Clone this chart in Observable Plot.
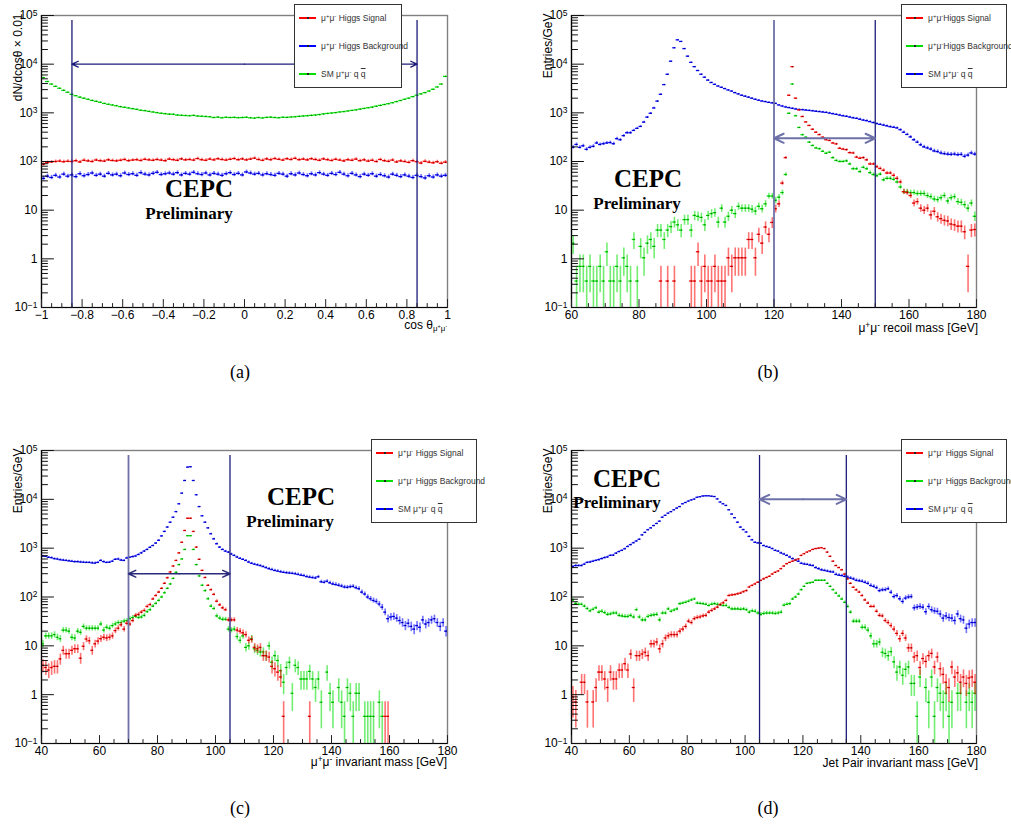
<!DOCTYPE html>
<html><head><meta charset="utf-8">
<script src="https://cdn.jsdelivr.net/npm/d3@7"></script>
<script src="https://cdn.jsdelivr.net/npm/@observablehq/plot@0.6"></script>
<style>
body{margin:0;background:#fff;}
#root{position:relative;width:1011px;height:827px;overflow:hidden;background:#fff;}
.lbl{position:absolute;white-space:nowrap;}
.lbl sup{font-size:0.7em;vertical-align:0.5em;line-height:0;}
.lbl sub{font-size:0.65em;vertical-align:-0.3em;line-height:0;}
.leg{position:absolute;box-sizing:border-box;border:1.5px solid #333;background:#fff;width:106px;height:84px;}
.ov{text-decoration:overline;}
</style></head><body><div id="root"></div>
<script>
const _ = null;
// ---------- (a) cos theta, 100 bins of 0.02 from -1 ----------
const aStart = -1, aStep = 0.02;
const aSignal = [
88,95,98,100,102,99,101,100,104,98,
106,103,100,107,104,102,108,105,103,106,
110,104,107,109,105,111,108,106,110,107,
104,112,109,106,113,108,110,107,115,109,
106,112,108,114,110,107,111,115,109,113,
108,112,117,110,106,113,109,115,111,107,
114,110,116,109,112,108,114,110,106,113,
109,105,111,107,103,109,106,112,104,108,
102,106,100,110,104,101,107,98,103,100,
96,104,99,93,101,97,94,99,92,97];
const aHiggsBkg = [
45,50,47,52,48,55,50,53,49,56,
51,54,58,52,55,50,57,53,55,51,
58,54,56,52,59,55,53,57,60,54,
56,58,55,59,53,57,55,60,56,54,
58,53,57,55,52,56,59,54,57,53,
61,58,55,57,53,56,54,52,57,55,
50,56,53,58,54,51,56,53,59,55,
52,57,54,60,55,51,57,53,49,55,
52,56,50,54,51,48,55,52,49,53,
50,47,52,49,46,51,48,53,50,52];
const aSM = [
5300,4400,3900,3500,3200,2900,2650,2400,2250,2100,
2000,1900,1800,1720,1650,1560,1500,1450,1400,1340,
1300,1260,1220,1180,1130,1110,1070,1040,1010,980,
960,940,935,900,890,880,870,885,860,850,
840,830,800,815,790,810,800,805,795,800,
810,790,780,800,785,805,815,800,790,810,
805,820,830,845,860,870,885,900,920,950,
970,990,1010,1040,1060,1090,1120,1150,1190,1230,
1270,1310,1370,1420,1480,1540,1610,1700,1790,1900,
2000,2150,2300,2450,2600,2800,3050,3400,3900,5600];

// ---------- (b) recoil mass, 1 GeV bins from 60 ----------
const bStart = 60, bStep = 1;
const bSignal = [
_,_,_,_,_,_,_,_,_,_,
_,_,_,_,_,_,_,_,_,_,
_,_,_,_,_,_,0.35,_,0.35,_,
0.35,_,_,_,_,0.35,0.35,1.4,0.35,0.7,
0.35,0.35,0.7,0.35,0.35,0.35,1.05,0.7,1.05,1.05,
1.05,1.05,2.5,2.5,1.05,3.2,2.1,4.5,3.2,5.6,
10.7,13.5,36,120,2300,8900,2000,1150,840,650,
550,460,400,357,316,280,270,240,230,187,
180,175,152,150,123,117,120,108,89,89,
78,72,66,58,58,52,45,38,24,23,
20,14,15,11,10,11,8,9.5,7.3,6.7,
6.2,6,5.2,5,4.7,4.7,3.6,0.7,3.9,4];
const bHiggsBkg = [
2.1,0.35,0.7,0.7,0.35,0.7,0.35,0.35,0.7,0.35,
1.4,0.35,0.35,0.7,0.35,1.05,0.7,0.35,2.5,0.35,
1.8,1.05,2.1,2.5,1.8,3.9,3.9,2.5,3.9,4.6,
5.7,5.0,3.9,6.4,6.4,3.9,7.8,7.5,7.1,5.0,
7.8,8.5,8.9,5.7,11,5.7,7.5,10,8.5,12,
11,11,11,10.5,9.6,12,10.7,13.5,19.5,19.5,
16,18.5,23,54,980,3900,870,500,355,316,
250,213,190,183,162,148,155,120,105,100,
100,103,89,71,71,62,76,71,59,54,
51,55,42,45,45,43,38,30,24,24,
23,23,22,22,22,20,19,17,16.5,18,
20,15.5,18,19,15,14.5,13,11,14,7.5];
const bSM = [
195,224,195,210,178,195,205,240,224,232,
240,245,232,295,280,340,390,390,435,480,
525,645,815,980,1260,1740,2400,3800,6200,11500,
21700,31600,29300,20900,14600,10900,8900,7400,6200,5400,
4700,4200,3850,3550,3350,3150,2950,2800,2600,2450,
2300,2200,2100,2000,1900,1820,1750,1700,1640,1600,
1560,1450,1380,1320,1280,1240,1200,1170,1160,1140,
1120,1100,1080,1060,1040,1020,990,960,930,900,
870,850,820,790,770,740,710,690,660,630,
600,580,560,540,520,505,490,450,400,360,
320,280,250,220,200,190,180,165,160,150,
145,142,140,142,138,140,128,135,150,142];

// ---------- (c) dimuon invariant mass, 1 GeV bins from 40 ----------
const cStart = 40, cStep = 1;
const cSignal = [
4.0,3.6,3.2,3.6,3.8,3.8,5.4,8.1,6.9,6.9,
8.1,8.7,8.7,5.6,9.8,13.8,12.7,8.1,11,12.5,
14,15,14.5,15,16,20.5,23,27,22,29,
28,33,42,44,49,53,64,70,91,107,
126,150,190,247,325,430,560,800,1320,2300,
4100,4100,2200,1050,590,350,250,173,141,113,
82,69,60,55,34,34,34,21,20,18.5,
17,13,13.5,9.3,8.7,9.3,6.3,6.3,5.9,3.8,
3.4,2.9,2.3,0.36,_,_,_,_,_,_,
_,_,0.36,_,_,_,_,_,_,_,
_,_,_,_,_,_,_,_,_,_,
_,_,_,_,_,_,_,_,0.36,0.36,
_,_,_,_,_,_,_,_,_,_,
_,_,_,_,_,_,_,_,_,_];
const cHiggsBkg = [
11,16,16,16,17,15,14,21,21,20,
15,14.5,20,19,25,23,23,23,23,23,
28,21,24,23,26,28,30,30,32,33,
36,38,40,38,39,42,50,55,65,74,
85,100,122,150,185,240,320,460,600,940,
1800,1800,940,460,270,174,135,92,65,58,
41,37,35,35,22,21,22,15.5,13,16,
9.3,10,14,8.7,8,7.5,7.5,6.3,10,4.6,
6.3,5,3.1,1.8,3.6,4.6,1.07,4,3.6,2.1,
2.1,2.1,3,2.1,1.4,2.1,0.7,_,2.9,1.07,
0.7,_,1.4,0.7,0.36,1.4,1.07,0.36,1.07,1.07,
_,0.36,0.36,0.36,0.36,_,0.7,0.36,_,_,
_,_,_,_,_,_,_,_,_,_,
_,_,_,_,_,_,_,_,_,_];
const cSM = [
690,680,650,640,610,600,580,570,560,550,
540,530,530,520,515,510,510,500,495,510,
560,530,510,515,540,590,600,570,560,630,
650,670,690,740,800,870,940,1040,1130,1270,
1450,1780,2200,2700,3400,4300,5600,8100,13400,24300,
45700,46500,24300,12400,7100,4600,3400,2600,1970,1550,
1230,1050,940,870,830,760,710,660,620,590,
560,520,490,470,455,440,420,400,380,365,
350,340,330,320,315,310,305,300,290,280,
275,262,255,250,245,260,205,200,210,195,
185,180,174,168,160,158,162,165,155,148,
126,115,100,92,85,81,72,62,49,36,
39,40,37,33,30,26,29,25,22,26,
24,34,28,30,34,36,30,25,30,20];

// ---------- (d) jet pair invariant mass, 1 GeV bins from 40 ----------
const dStart = 40, dStep = 1;
const dSignal = [
0.9,0.71,_,1.8,1.8,0.71,_,0.71,1.4,2.9,
2.9,2.1,1.4,2.9,2.1,2.1,3.2,3.2,4.3,3.2,
6.8,1.4,6.3,6.3,6.8,7.4,6.3,11,11,12,
8.7,11,14.5,16,17,17,17,20,22,25,
32,30,36,38,39,41,42,49,53,57,
62,70,76,85,107,110,112,116,120,128,
135,160,172,185,200,218,235,250,265,295,
320,340,380,430,480,510,540,570,600,710,
770,830,880,940,980,1000,1020,980,830,680,
540,440,400,360,295,235,190,158,140,126,
107,87,75,64,64,51,42,41,33,30,
26,22,18,14,18,14.5,9.1,9.1,5.9,6.3,
3.6,5.5,4.8,6.3,7,3.7,5.9,3.4,2.6,1.8,
1.4,3.7,2.3,2.8,1.8,2.3,1.7,2.2,2.3,1.8];
const dHiggsBkg = [
87,74,71,71,65,58,52,56,60,49,
51,48,44,45,47,47,42,41,40,40,
42,39,55,39,34,34,40,42,43,44,
34,47,47,57,51,54,57,73,75,78,
82,87,91,75,74,73,71,67,71,73,
71,69,67,67,61,57,57,57,56,57,
55,49,52,51,47,44,46,47,47,47,
46,47,49,68,71,73,91,100,115,141,
165,190,195,200,220,220,220,220,190,165,
141,120,105,91,78,64,49,32,32,32,
24,24,21,16,11,11,12,7.4,7,6.3,
7.6,4.7,2.9,3.7,2.5,3.3,3.7,1.7,1.7,0.36,
2.3,_,1.4,0.7,2.3,0.36,1.4,1.07,0.7,1.07,
0.36,0.7,_,1.07,1.07,_,0.7,1.07,0.7,1.07];
const dSM = [
420,440,440,440,470,510,520,540,560,580,
610,640,660,710,720,790,850,900,970,1080,
1180,1290,1400,1520,1870,2100,2380,2600,2900,3200,
3570,4300,4700,5200,5600,6100,6600,7100,8100,8600,
9200,9700,10100,11000,11300,11700,11800,11800,11600,11400,
10200,8800,8100,7500,6100,5000,4200,3400,2700,2400,
2140,1740,1480,1320,1280,1260,1130,1080,1040,980,
900,870,800,760,710,660,610,570,540,490,
475,465,450,440,400,380,360,350,340,330,
325,290,280,275,265,255,245,235,220,215,
210,200,190,172,165,155,135,140,141,148,
125,102,107,92,81,95,100,102,60,62,
64,62,50,64,55,52,51,45,37,41,
38,37,33,45,36,34,23,28,30,30];

// per-entry weights (value of a single event) used for sqrt(N) error bars
const wA = 0.5, wLow = 0.357, wSM = 1.2;

// cuts
const aCuts = [-0.85, 0.85], bCuts = [120, 150], cCuts = [70, 105], dCuts = [105, 135];
const aArrowY = 1e4, bArrowY = 300, cArrowY = 300, dArrowY = 1e4;

// tick labels
const aXMajor = [-1,-0.8,-0.6,-0.4,-0.2,0,0.2,0.4,0.6,0.8,1];
const bXMajor = [60,80,100,120,140,160,180];
const cdXMajor = [40,60,80,100,120,140,160,180];
const yMajor = [0.1,1,10,100,1000,10000,100000];
const yLabels = new Map([[0.1,"10^-1"],[1,"1"],[10,"10"],[100,"10^2"],[1000,"10^3"],[10000,"10^4"],[100000,"10^5"]]);

const legA = ["μ<sup>+</sup>μ<sup>-</sup> Higgs Signal","μ<sup>+</sup>μ<sup>-</sup> Higgs Background","SM μ<sup>+</sup>μ<sup>-</sup> q <span class='ov'>q</span>"];
const legB = ["μ<sup>+</sup>μ<sup>-</sup>Higgs Signal","μ<sup>+</sup>μ<sup>-</sup>Higgs Background","SM μ<sup>+</sup>μ<sup>-</sup> q <span class='ov'>q</span>"];

// ---------- rendering ----------
const SANS = '"Liberation Sans", Arial, Helvetica, sans-serif';
const SERIF = '"Liberation Serif", "Times New Roman", serif';
const RED = "#ff0000", GREEN = "#00e000", BLUE = "#0000ff";
const NAVY = "#1c1c78", SLATE = "#6e71a8";
const YMIN = 0.1, YMAX = 1e5;
const root = document.getElementById("root");
const svgNS = "http://www.w3.org/2000/svg";

function makeBins(values, start, step, w) {
  const out = [];
  values.forEach((v, i) => {
    if (v == null || !(v > 0)) return;
    const e = Math.sqrt(w * v);
    out.push({lo: start + i*step, hi: start + (i+1)*step, c: start + (i+0.5)*step, v,
              y1: Math.max(v - e, YMIN), y2: v + e});
  });
  return out;
}
const fmtX = d => d < 0 ? "\u2212" + Math.abs(d) : String(d);
const tickUp = {draw(ctx, l) { ctx.moveTo(0, 0); ctx.lineTo(0, -l); }};
const tickRight = {draw(ctx, l) { ctx.moveTo(0, 0); ctx.lineTo(l, 0); }};
const yMinor = [];
for (let k = -1; k < 5; k++) for (let m = 2; m < 10; m++) yMinor.push(m * Math.pow(10, k));

function drawPanel(p) {
  const marks = [];
  marks.push(Plot.frame({stroke: "#808080", strokeWidth: 1.4}));
  for (const s of p.series) {
    marks.push(Plot.ruleX(s.bins, {x: "c", y1: "y1", y2: "y2", stroke: s.color, strokeOpacity: 0.55, strokeWidth: 1.6, clip: true}));
    marks.push(Plot.ruleY(s.bins, {y: "v", x1: "lo", x2: "hi", stroke: s.color, strokeWidth: 1.3, clip: true}));
    marks.push(Plot.dot(s.bins, {x: "c", y: "v", r: 0.55, fill: s.dark, clip: true}));
  }
  p.cuts.forEach((c, i) => marks.push(Plot.ruleX([c], {stroke: p.cutColors[i], strokeWidth: p.cutWidths[i], insetTop: 5})));
  const mid = (p.cuts[0] + p.cuts[1]) / 2;
  marks.push(Plot.arrow([{x1: mid, x2: p.cuts[0], y: p.arrowY}, {x1: mid, x2: p.cuts[1], y: p.arrowY}],
    {x1: "x1", x2: "x2", y1: "y", y2: "y", stroke: p.arrowColor, strokeWidth: p.arrowWidth, headLength: 8, headAngle: 50}));
  marks.push(Plot.ruleY([YMIN], {stroke: "black", strokeWidth: 1.2}));
  marks.push(Plot.ruleX([p.x[0]], {stroke: "black", strokeWidth: 1.2}));
  marks.push(Plot.vectorX(p.xMajor, {x: d => d, frameAnchor: "bottom", anchor: "start", length: 8, shape: tickUp, stroke: "#222", strokeWidth: 1}));
  marks.push(Plot.vectorX(p.xMinor, {x: d => d, frameAnchor: "bottom", anchor: "start", length: 4, shape: tickUp, stroke: "#222", strokeWidth: 1}));
  marks.push(Plot.vectorY(yMajor, {y: d => d, frameAnchor: "left", anchor: "start", length: 12, shape: tickRight, stroke: "#111", strokeWidth: 1}));
  marks.push(Plot.vectorY(yMinor, {y: d => d, frameAnchor: "left", anchor: "start", length: 6, shape: tickRight, stroke: "#111", strokeWidth: 1}));
  marks.push(Plot.axisX({ticks: p.xMajor, tickSize: 0, tickPadding: 3, fontSize: 12, label: null, tickFormat: fmtX}));
  marks.push(Plot.axisY({ticks: yMajor, tickSize: 0, tickPadding: 4, fontSize: 12, label: null, tickFormat: d => yLabels.get(d)}));
  marks.push(Plot.text([p.yTitle], {frameAnchor: "top-left", rotate: -90, textAnchor: "end", dx: -28, dy: -2, fontSize: 12, fill: "black"}));
  const svg = Plot.plot({
    width: p.width, height: p.height,
    marginLeft: p.mL, marginRight: p.mR, marginTop: p.mT, marginBottom: p.mB,
    x: {domain: p.x},
    y: {type: "log", domain: [YMIN, YMAX]},
    style: {background: "transparent", fontFamily: SANS, fontSize: "12px", color: "black", overflow: "visible"},
    marks
  });
  svg.querySelectorAll('g[aria-label="y-axis tick label"] text').forEach(t => {
    const s = t.textContent;
    if (s.includes("^")) {
      const [b, e] = s.split("^");
      t.textContent = b;
      const ts = document.createElementNS(svgNS, "tspan");
      ts.setAttribute("dy", "-0.45em");
      ts.setAttribute("font-size", "8.5");
      ts.textContent = e.replace("-", "\u2212");
      t.appendChild(ts);
    }
  });
  svg.style.position = "absolute";
  svg.style.left = p.left + "px";
  svg.style.top = p.top + "px";
  root.appendChild(svg);
}

function minorTicks(lo, hi, step, majorStep) {
  const n = Math.round((hi - lo) / step), out = [];
  const r = Math.round(majorStep / step);
  for (let i = 0; i <= n; i++) if (i % r !== 0) out.push(+(lo + i * step).toFixed(4));
  return out;
}

const series = (sig, hb, sm, start, step, wSig, wHb, wSm, hbColor, smColor) => [
  {bins: makeBins(sm, start, step, wSm), color: smColor, dark: smColor === GREEN ? "#006000" : "#000070"},
  {bins: makeBins(hb, start, step, wHb), color: hbColor, dark: hbColor === GREEN ? "#006000" : "#000070"},
  {bins: makeBins(sig, start, step, wSig), color: RED, dark: "#700000"}
];

drawPanel({left: 0, top: 0, width: 505, height: 345, mL: 41, mR: 58, mT: 15, mB: 38,
  x: [-1, 1], xMajor: aXMajor, xMinor: minorTicks(-1, 1, 0.05, 0.2),
  series: series(aSignal, aHiggsBkg, aSM, aStart, aStep, wA, wA, wA, BLUE, GREEN),
  cuts: aCuts, cutColors: [NAVY, NAVY], cutWidths: [1.3, 1.3], arrowY: aArrowY, arrowColor: NAVY, arrowWidth: 1.3,
  yTitle: "dN/dcosθ × 0.01"});
drawPanel({left: 505, top: 0, width: 506, height: 345, mL: 66, mR: 35, mT: 15, mB: 38,
  x: [60, 180], xMajor: bXMajor, xMinor: minorTicks(60, 180, 5, 20),
  series: series(bSignal, bHiggsBkg, bSM, bStart, bStep, wLow, wLow, wSM, GREEN, BLUE),
  cuts: bCuts, cutColors: [SLATE, NAVY], cutWidths: [1.8, 1.3], arrowY: bArrowY, arrowColor: SLATE, arrowWidth: 2,
  yTitle: "Entries/GeV"});
drawPanel({left: 0, top: 430, width: 505, height: 345, mL: 41, mR: 58, mT: 20, mB: 32,
  x: [40, 180], xMajor: cdXMajor, xMinor: minorTicks(40, 180, 5, 20),
  series: series(cSignal, cHiggsBkg, cSM, cStart, cStep, wLow, wLow, wSM, GREEN, BLUE),
  cuts: cCuts, cutColors: [SLATE, NAVY], cutWidths: [1.8, 1.3], arrowY: cArrowY, arrowColor: "#2a2a7a", arrowWidth: 1.5,
  yTitle: "Entries/GeV"});
drawPanel({left: 505, top: 430, width: 506, height: 345, mL: 66, mR: 35, mT: 20, mB: 32,
  x: [40, 180], xMajor: cdXMajor, xMinor: minorTicks(40, 180, 5, 20),
  series: series(dSignal, dHiggsBkg, dSM, dStart, dStep, wLow, wLow, wSM, GREEN, BLUE),
  cuts: dCuts, cutColors: [NAVY, NAVY], cutWidths: [1.3, 1.3], arrowY: dArrowY, arrowColor: SLATE, arrowWidth: 2,
  yTitle: "Entries/GeV"});

// ---------- HTML texts ----------
function put(html, x, baseline, {size = 12, family = SANS, weight = "normal", anchor = "start", color = "#000"} = {}) {
  const d = document.createElement("div");
  d.className = "lbl";
  d.innerHTML = html;
  const asc = family === SERIF ? 0.8375 : 0.846;
  const tx = anchor === "middle" ? "-50%" : anchor === "end" ? "-100%" : "0";
  d.style.cssText = `font-family:${family};font-size:${size}px;line-height:${size}px;font-weight:${weight};color:${color};left:${x}px;top:${baseline - asc * size}px;transform:translateX(${tx});`;
  root.appendChild(d);
}
// x-axis titles
put("cos θ<sub>μ<sup>+</sup>μ<sup>-</sup></sub>", 447, 329, {anchor: "end"});
put("μ<sup>+</sup>μ<sup>-</sup> recoil mass [GeV]", 978, 332, {anchor: "end"});
put("μ<sup>+</sup>μ<sup>-</sup> invariant mass [GeV]", 447, 766, {anchor: "end"});
put("Jet Pair invariant mass [GeV]", 978, 767, {anchor: "end"});
// CEPC Preliminary
const cepc = [[199,197,189,219],[648,187,637,209],[301,505,290,527],[627,487,617,508]];
cepc.forEach(([x1,y1,x2,y2]) => {
  put("CEPC", x1, y1, {size: 25, family: SERIF, weight: "bold", anchor: "middle"});
  put("Preliminary", x2, y2, {size: 17, family: SERIF, weight: "bold", anchor: "middle"});
});
// captions
put("(a)", 240, 378, {size: 18, family: SERIF, anchor: "middle"});
put("(b)", 768, 378, {size: 18, family: SERIF, anchor: "middle"});
put("(c)", 240, 814, {size: 18, family: SERIF, anchor: "middle"});
put("(d)", 768, 814, {size: 18, family: SERIF, anchor: "middle"});

// legends
function legend(left, top, width, texts, colors) {
  const box = document.createElement("div");
  box.className = "leg";
  box.style.left = left + "px"; box.style.top = top + "px"; box.style.width = width + "px";
  root.appendChild(box);
  texts.forEach((t, i) => {
    const cy = top + 14 + i * 28;
    const ln = document.createElement("div");
    ln.style.cssText = `position:absolute;left:${left+5}px;top:${cy-1}px;width:17px;height:2px;background:${colors[i]};`;
    root.appendChild(ln);
    const dt = document.createElement("div");
    dt.style.cssText = `position:absolute;left:${left+12.5}px;top:${cy-1}px;width:2px;height:2px;background:#222;`;
    root.appendChild(dt);
    put(t, left + 27, cy + 3, {size: 8.5, color: "#333"});
  });
}
legend(294, 4, 108, legA, [RED, BLUE, GREEN]);
legend(901, 4, 106, legB, [RED, GREEN, BLUE]);
legend(371, 439, 106, legA, [RED, GREEN, BLUE]);
legend(901, 439, 106, legA, [RED, GREEN, BLUE]);
</script></body></html>
